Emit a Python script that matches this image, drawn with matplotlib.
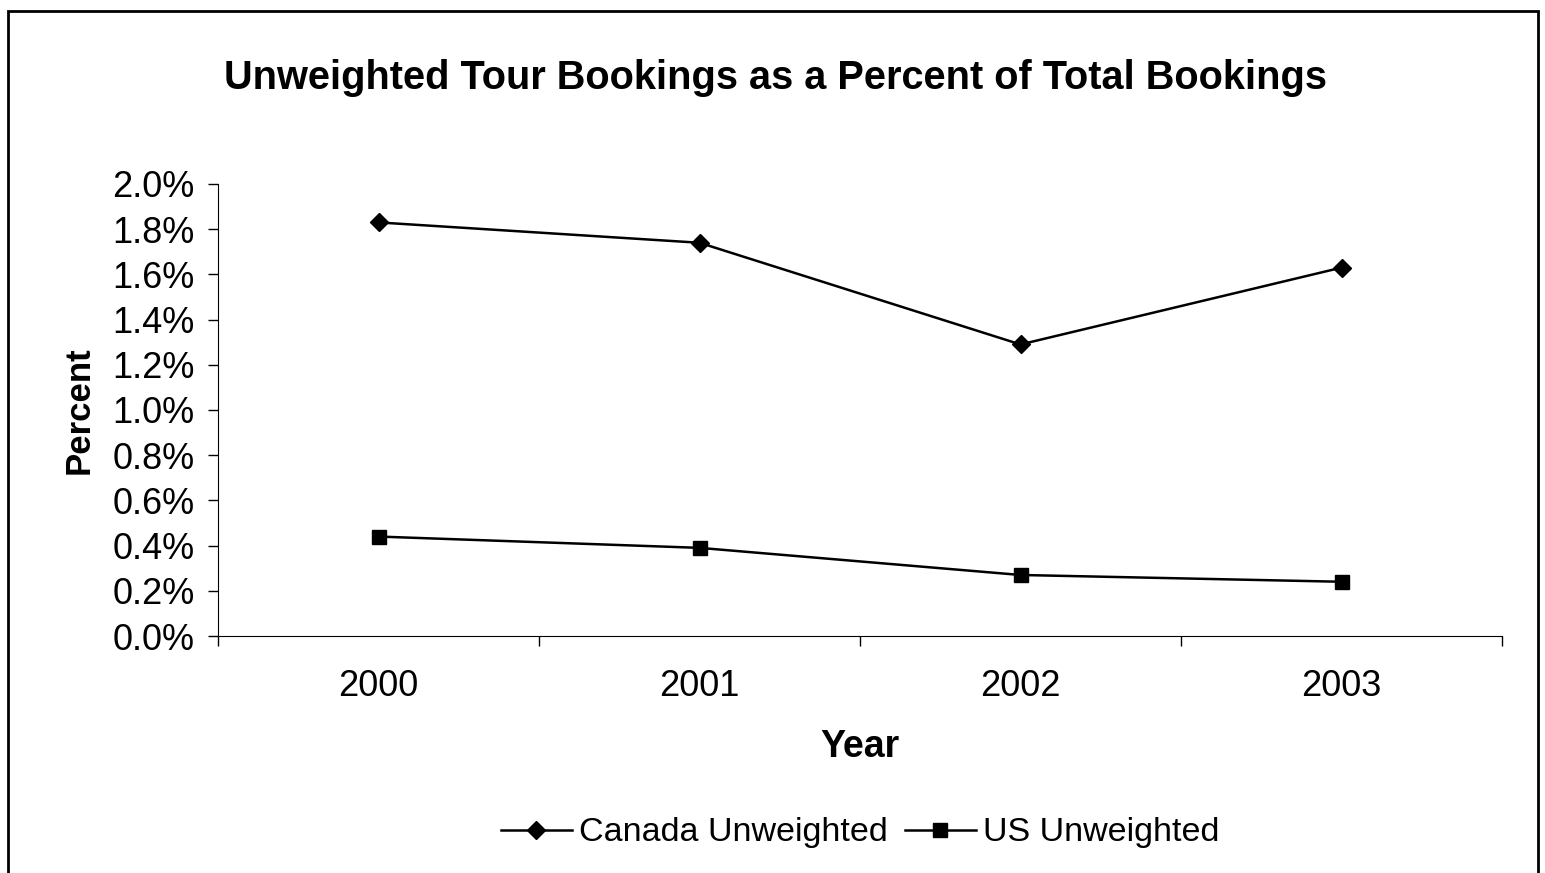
import matplotlib.pyplot as plt
from matplotlib.patches import Rectangle
from matplotlib.ticker import FuncFormatter

plt.rcParams['font.family'] = ['Liberation Sans', 'DejaVu Sans']

years = ['2000', '2001', '2002', '2003']
canada = [1.83, 1.74, 1.29, 1.63]
us = [0.44, 0.39, 0.27, 0.24]
yticks = [0.0, 0.2, 0.4, 0.6, 0.8, 1.0, 1.2, 1.4, 1.6, 1.8, 2.0]

fig = plt.figure(figsize=(15.45, 8.73), dpi=100)
fig.patches.append(Rectangle((8 / 1545, -0.05), 1530 / 1545, 1.05 - 11 / 873,
                             transform=fig.transFigure, fill=False,
                             edgecolor='black', linewidth=2))

ax = fig.add_axes([218 / 1545, 1 - 636 / 873, 1284 / 1545, 452 / 873])
x = range(len(years))
ax.plot(x, canada, color='black', linewidth=1.8, marker='D', markersize=9,
        label='Canada Unweighted')
ax.plot(x, us, color='black', linewidth=1.8, marker='s', markersize=10,
        label='US Unweighted')

ax.set_xlim(-0.5, 3.5)
ax.set_ylim(0, 2.0)
ax.set_yticks(yticks)
ax.yaxis.set_major_formatter(FuncFormatter(lambda v, p: f'{v:.1f}%'))
ax.set_xticks([-0.5, 0.5, 1.5, 2.5, 3.5])
ax.set_xticklabels([])
ax.set_xticks(list(x), minor=True)
ax.set_xticklabels(years, minor=True)
ax.tick_params(axis='x', which='minor', length=0, labelsize=26, pad=24)
ax.tick_params(axis='x', which='major', length=7, width=1, direction='out')
ax.tick_params(axis='y', length=7, width=1, labelsize=26, pad=10)
ax.spines['top'].set_visible(False)
ax.spines['right'].set_visible(False)

ax.set_xlabel('Year', fontsize=27, fontweight='bold', labelpad=18)
ax.set_ylabel('Percent', fontsize=25, fontweight='bold', labelpad=12)

fig.text(776 / 1545, 1 - 78 / 873,
         'Unweighted Tour Bookings as a Percent of Total Bookings',
         ha='center', va='center', fontsize=28.6, fontweight='bold')

fig.legend(loc='center', bbox_to_anchor=(860 / 1545, 1 - 833 / 873), ncol=2,
           frameon=False, fontsize=24.5, handlelength=2.1, handletextpad=0.2,
           columnspacing=0.5)

fig.savefig('out.png', dpi=100)
